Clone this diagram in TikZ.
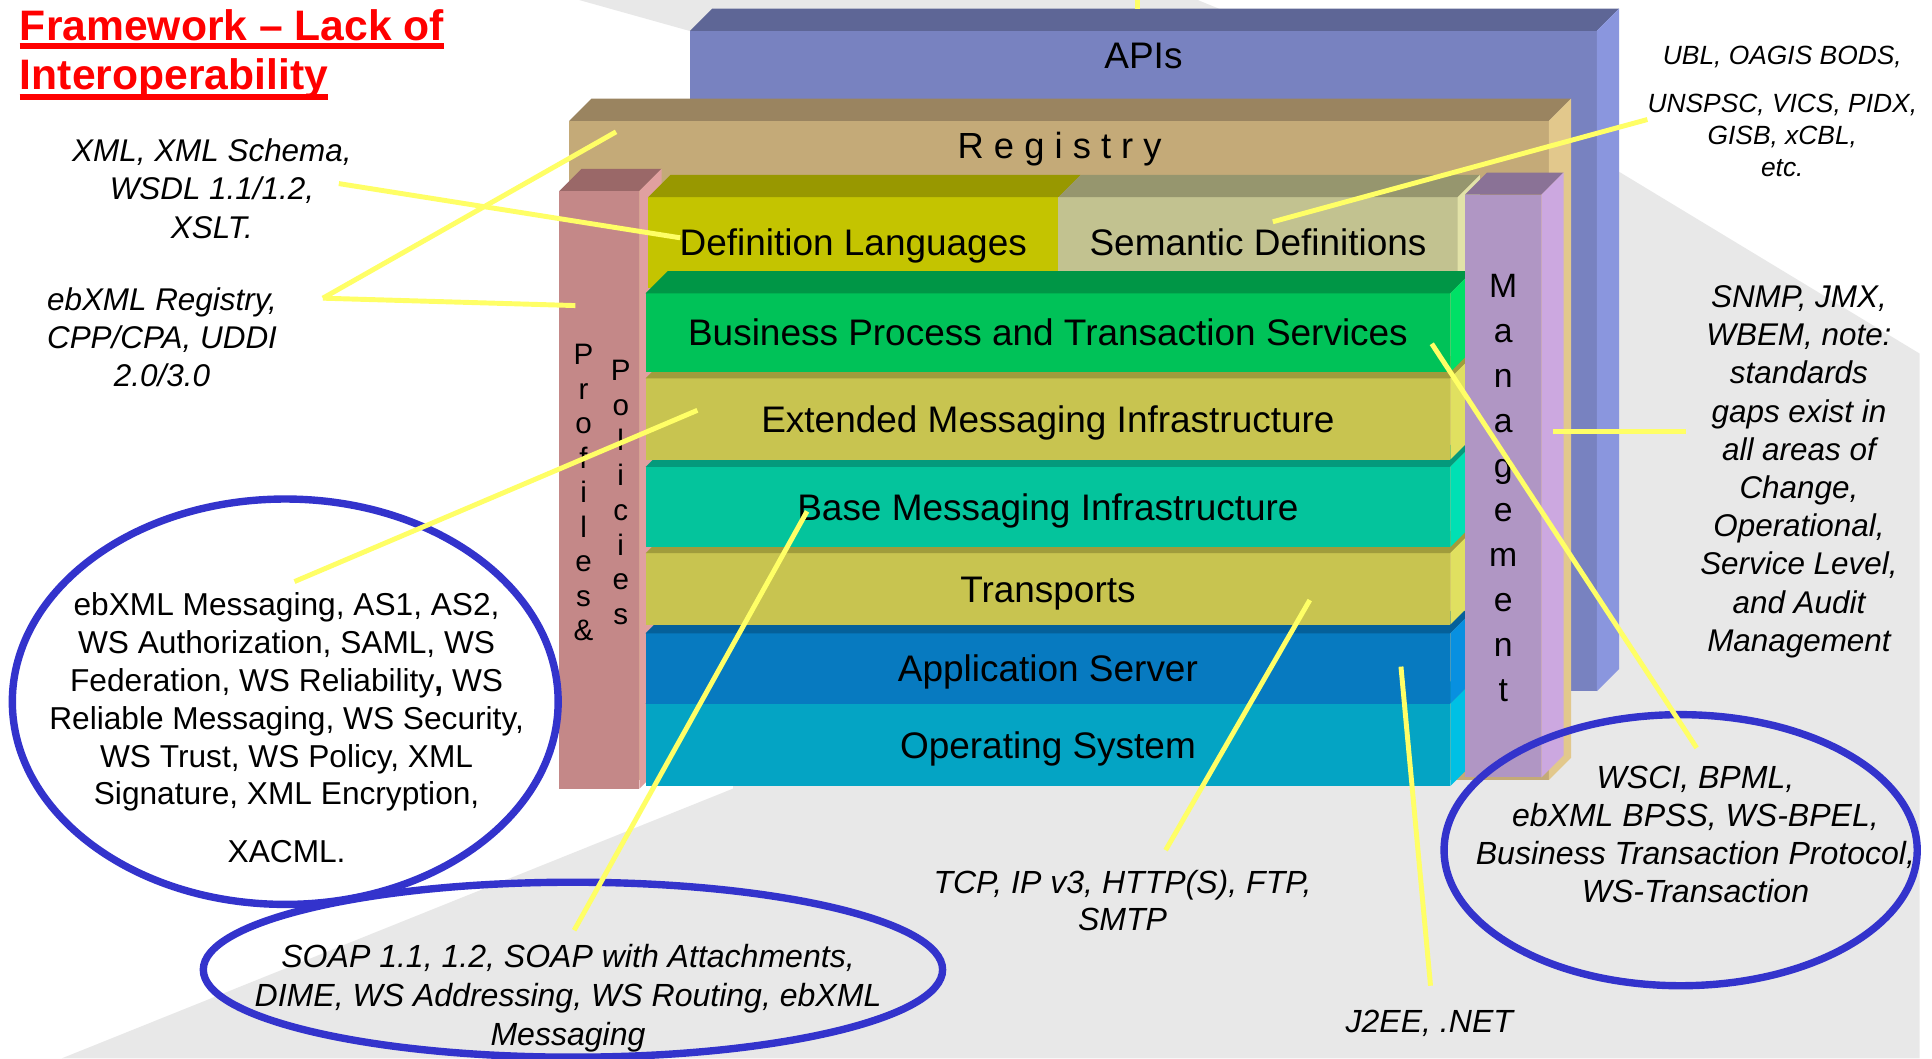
\documentclass[tikz,border=0pt]{standalone}
\usepackage{fontspec}
\setmainfont{Liberation Sans}
\usepackage{xcolor}
\usetikzlibrary{calc,shapes.geometric}

\definecolor{apiface}{HTML}{7882C0}
\definecolor{apitop}{HTML}{5E6696}
\definecolor{apiside}{HTML}{8A96DE}
\definecolor{regface}{HTML}{C4AA78}
\definecolor{regtop}{HTML}{9A8460}
\definecolor{regside}{HTML}{E2C88C}
\definecolor{proface}{HTML}{C48888}
\definecolor{protop}{HTML}{9A6868}
\definecolor{proside}{HTML}{E0A0A0}
\definecolor{dlface}{HTML}{C4C400}
\definecolor{dltop}{HTML}{989800}
\definecolor{sdface}{HTML}{C2C290}
\definecolor{sdtop}{HTML}{96966E}
\definecolor{sdside}{HTML}{E2E2A8}
\definecolor{mgface}{HTML}{B096C4}
\definecolor{mgtop}{HTML}{8A7296}
\definecolor{mgside}{HTML}{CCA8E0}
\definecolor{bpface}{HTML}{00C258}
\definecolor{bptop}{HTML}{009646}
\definecolor{bpside}{HTML}{00E066}
\definecolor{olface}{HTML}{C8C450}
\definecolor{oltop}{HTML}{A09C3C}
\definecolor{olside}{HTML}{E0E060}
\definecolor{tlface}{HTML}{04C49C}
\definecolor{tltop}{HTML}{049A7C}
\definecolor{tlside}{HTML}{00E0B4}
\definecolor{asface}{HTML}{077AC0}
\definecolor{astop}{HTML}{05609A}
\definecolor{asside}{HTML}{0890E0}
\definecolor{osface}{HTML}{04A4C4}
\definecolor{ostop}{HTML}{03809A}
\definecolor{osside}{HTML}{00C0E4}
\definecolor{linkyellow}{HTML}{FFFF66}
\definecolor{ringblue}{HTML}{3333CC}
\definecolor{swoosh}{HTML}{E8E8E8}
\definecolor{titlered}{HTML}{FF0000}

% top and right faces of a block node
\newcommand{\bevelface}[2]{%
	\fill[#2] (#1.north west) -- ++(18,-18) -- ($(#1.north east)+(18,-18)$) -- (#1.north east) -- cycle;}
\newcommand{\sidepanel}[2]{%
	\fill[#2] (#1.north east) -- ++(18,-18) -- ($(#1.south east)+(18,-18)$) -- (#1.south east) -- cycle;}

\tikzset{
	block/.style={inner sep=0pt, outer sep=0pt},
	face/.style={block, text height=21.5pt, text depth=0pt, font=\fontsize{30}{36}\selectfont},
	caption/.style={inner sep=0pt, anchor=base, font=\fontsize{30}{36}\selectfont},
	letter/.style={inner sep=0pt, anchor=base},
	note/.style={inner sep=0pt, anchor=north, align=center, font=\itshape\fontsize{25.5}{31}\selectfont},
	ring/.style={ellipse, draw=ringblue, line width=6pt, inner sep=0pt, outer sep=0pt},
	wire/.style={draw=linkyellow, line width=4pt},
	heading/.style={inner sep=0pt, anchor=base west, text=titlered, font=\bfseries\fontsize{34.6}{40}\selectfont},
}

\begin{document}
\begin{tikzpicture}[x=1pt,y=-1pt]
		\useasboundingbox (0,0) rectangle (1568,859);
		\fill[white] (0,0) rectangle (1568,859);
		\fill[swoosh] (470,0) -- (972,0) -- (1315,140) -- (1558,287) -- (1558,859) -- (50,859)
			-- (595,640) -- (595,600) -- (530,300) -- (560,100) -- (570,28) -- cycle;
		%
		% back blocks
		\node[block, fill=apiface, minimum width=736, minimum height=536] (apis) at (928,293) {};
		\bevelface{apis}{apitop}
		\sidepanel{apis}{apiside}
		\node[caption] (apilbl) at (928,55.5) {APIs};
		\node[block, fill=regface, minimum width=795, minimum height=535] (reg) at (859.5,365.5) {};
		\bevelface{reg}{regtop}
		\sidepanel{reg}{regside}
		\node[caption, font=\fontsize{29.5}{36}\selectfont] (reglbl) at (860,128.6) {R e g i s t r y};
		\node[block, fill=proface, minimum width=65, minimum height=485] (prof) at (486.5,397.5) {};
		\bevelface{prof}{protop}
		\sidepanel{prof}{proside}
		\foreach \ch [count=\i from 0] in {P,r,o,f,i,l,e,s,\&}
			\node[letter, font=\fontsize{24}{28}\selectfont] (pr\i) at (473.6,296+28*\i) {\ch};
		\foreach \ch [count=\i from 0] in {P,o,l,i,c,i,e,s}
			\node[letter, font=\fontsize{24}{28}\selectfont] (po\i) at (503.8,309+28.3*\i) {\ch};
		\node[face, fill=dlface, minimum width=333, minimum height=74] (dl) at (692.5,197) {Definition Languages};
		\bevelface{dl}{dltop}
		\node[face, fill=sdface, minimum width=324, minimum height=74] (sd) at (1021,197) {Semantic Definitions};
		\bevelface{sd}{sdtop}
		\sidepanel{sd}{sdside}
		%
		% layers, bottom first
		\foreach \lay/\col/\ymid/\hgt/\words in {os/os/604.5/67/Operating System,
				as/as/542.5/57/Application Server, tr/ol/478/58/Transports,
				bmi/tl/411.5/65/Base Messaging Infrastructure,
				emi/ol/340/66/Extended Messaging Infrastructure,
				bp/bp/270/64/Business Process and Transaction Services}{
			\node[face, fill=\col face, minimum width=653, minimum height=\hgt] (\lay) at (850.5,\ymid) {\words};
			\bevelface{\lay}{\col top}
			\sidepanel{\lay}{\col side}
		}
		%
		\node[block, fill=mgface, minimum width=62, minimum height=473] (mg) at (1220,394.5) {};
		\bevelface{mg}{mgtop}
		\sidepanel{mg}{mgside}
		\foreach \ch [count=\i from 0] in {M,a,n,a,g,e,m,e,n,t}
			\node[letter, font=\fontsize{27.4}{30}\selectfont] (mg\i) at (1220,241.6+36.4*\i) {\ch};
		%
		% title
		\node[heading] (ttl1) at (16,32.5) {Framework – Lack of};
		\node[heading] (ttl2) at (16,73) {Interoperability};
		\draw[titlered, line width=4.6pt] ([yshift=-4.6pt]ttl1.base west) -- ([yshift=-4.6pt]ttl1.base east);
		\draw[titlered, line width=4.6pt] ([yshift=-5.8pt]ttl2.base west) -- ([yshift=-5.8pt]ttl2.base east);
		%
		% notes
		\node[note] (xmlnote) at (172,112.6) {XML, XML Schema,\\WSDL 1.1/1.2,\\XSLT.};
		\node[note] (regnote) at (131.5,233) {ebXML Registry,\\CPP/CPA, UDDI\\2.0/3.0};
		\node[note, font=\itshape\fontsize{21.4}{26}\selectfont] (ublnote) at (1446.5,37)
			{UBL, OAGIS BODS,\\[13.2pt]UNSPSC, VICS, PIDX,\\GISB, xCBL,\\etc.};
		\node[note] (snmpnote) at (1460,231.6) {SNMP, JMX,\\WBEM, note:\\standards\\gaps exist in\\all areas of\\Change,\\Operational,\\Service Level,\\and Audit\\Management};
		\node[note, font=\fontsize{25.7}{30.8}\selectfont] (msgnote) at (232.6,480.5)
			{ebXML Messaging, AS1, AS2,\\WS Authorization, SAML, WS\\Federation, WS Reliability\textbf{,} WS\\Reliable Messaging, WS Security,\\WS Trust, WS Policy, XML\\Signature, XML Encryption,\\[16pt]XACML.};
		\node[note, font=\itshape\fontsize{26}{31.5}\selectfont] (soapnote) at (461,766.3)
			{SOAP 1.1, 1.2, SOAP with Attachments,\\DIME, WS Addressing, WS Routing, ebXML\\Messaging};
		\node[note, font=\itshape\fontsize{26}{30}\selectfont] (tcpnote) at (911,706.3) {TCP, IP v3, HTTP(S), FTP,\\SMTP};
		\node[note, font=\itshape\fontsize{26}{30}\selectfont] (j2eenote) at (1160,819.8) {J2EE, .NET};
		\node[note, font=\itshape\fontsize{26}{31}\selectfont] (wscinote) at (1376,621.3)
			{WSCI, BPML,\\ebXML BPSS, WS-BPEL,\\Business Transaction Protocol,\\WS-Transaction};
		%
		% rings
		\node[ring, minimum width=443, minimum height=329] (msgring) at (231.5,569.5) {};
		\node[ring, minimum width=600, minimum height=142] (soapring) at (465,787) {};
		\node[ring, minimum width=384, minimum height=220] (wscring) at (1364,690) {};
		%
		% yellow pointers
		\coordinate (xmlS) at (275,149);   \coordinate (xmlE) at (552,193);
		\coordinate (regS) at (262,242);   \coordinate (regE) at (500,107);
		\coordinate (proE) at (467,248);
		\coordinate (msgS) at (239,472);   \coordinate (msgE) at (566,333);
		\coordinate (soapS) at (466,755);  \coordinate (soapE) at (655,415);
		\coordinate (tcpS) at (946,690);   \coordinate (tcpE) at (1063,487);
		\coordinate (j2eeS) at (1161,800); \coordinate (j2eeE) at (1137,541);
		\coordinate (wsciS) at (1377,607); \coordinate (wsciE) at (1162,279);
		\coordinate (ublS) at (1337,97);   \coordinate (ublE) at (1033,180);
		\coordinate (snmpS) at (1368,350); \coordinate (snmpE) at (1260,350);
		\coordinate (topS) at (923,0);     \coordinate (topE) at (923,7);
		\path
		(xmlS) edge[wire] (xmlE)
		(regS) edge[wire] (regE)
		(regS) edge[wire] (proE)
		(msgS) edge[wire] (msgE)
		(soapS) edge[wire] (soapE)
		(tcpS) edge[wire] (tcpE)
		(j2eeS) edge[wire] (j2eeE)
		(wsciS) edge[wire] (wsciE)
		(ublS) edge[wire] (ublE)
		(snmpS) edge[wire] (snmpE)
		(topS) edge[wire] (topE);
\end{tikzpicture}
\end{document}
